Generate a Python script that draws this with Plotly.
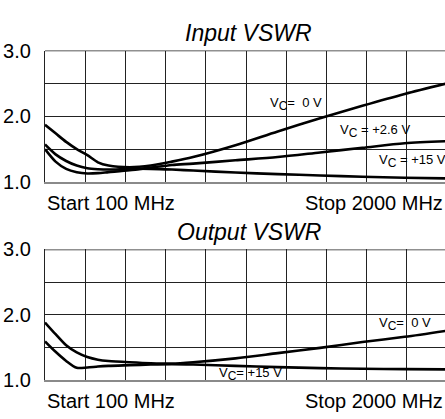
import plotly.graph_objects as go

# Frequency points (MHz); the sweep runs Start 100 MHz to Stop 2000 MHz
freq_mhz = [100, 150, 200, 250, 300, 350, 400, 500, 600, 700, 800, 1000, 1200, 1400, 1600, 1800, 2000]

# Input VSWR
input_vc_0v = [1.87, 1.74, 1.61, 1.50, 1.41, 1.30, 1.25, 1.225, 1.25, 1.31, 1.38, 1.56, 1.77, 1.97, 2.16, 2.34, 2.50]
input_vc_2p6v = [1.50, 1.31, 1.20, 1.15, 1.13, 1.135, 1.15, 1.18, 1.22, 1.26, 1.28, 1.33, 1.38, 1.45, 1.52, 1.59, 1.62]
input_vc_15v = [1.57, 1.42, 1.32, 1.25, 1.21, 1.195, 1.19, 1.20, 1.20, 1.19, 1.175, 1.145, 1.12, 1.10, 1.08, 1.065, 1.055]

# Output VSWR
output_vc_0v = [1.88, 1.70, 1.53, 1.42, 1.35, 1.31, 1.29, 1.27, 1.255, 1.25, 1.27, 1.33, 1.41, 1.49, 1.58, 1.66, 1.755]
output_vc_15v = [1.59, 1.43, 1.29, 1.185, 1.19, 1.205, 1.215, 1.225, 1.235, 1.24, 1.235, 1.215, 1.195, 1.18, 1.17, 1.165, 1.16]

y_tickvals = [1.0, 2.0, 3.0]
y_ticktext = ["1.0", "2.0", "3.0"]
x_start_label = "Start 100 MHz"
x_stop_label = "Stop 2000 MHz"

FONT = "Liberation Sans, Arial, sans-serif"
GRID = "#222222"
LINE = dict(color="black", width=2.6, shape="spline", smoothing=0.8)

fig = go.Figure()
for ys in (input_vc_0v, input_vc_2p6v, input_vc_15v):
    fig.add_trace(go.Scatter(x=freq_mhz, y=ys, mode="lines", line=LINE,
                             xaxis="x", yaxis="y", showlegend=False, hoverinfo="skip"))
for ys in (output_vc_0v, output_vc_15v):
    fig.add_trace(go.Scatter(x=freq_mhz, y=ys, mode="lines", line=LINE,
                             xaxis="x2", yaxis="y2", showlegend=False, hoverinfo="skip"))

x_left = 45 / 445
xcommon = dict(range=[100, 100 + 190 * 9.95], tick0=100, dtick=190, showgrid=True,
               gridcolor=GRID, gridwidth=1.2, showticklabels=False, showline=True,
               linecolor="#8a8a8a", linewidth=2.2, zeroline=False, domain=[x_left, 1.0],
               fixedrange=True)
ycommon = dict(range=[1, 3], tickmode="array", tickvals=y_tickvals, ticktext=y_ticktext,
               showgrid=True, gridcolor=GRID, gridwidth=1.2,
               minor=dict(tickmode="array", tickvals=[1.5, 2.5], showgrid=True,
                          gridcolor=GRID, gridwidth=1.2, ticks=""),
               showline=True, linecolor=GRID, linewidth=1.2, zeroline=False,
               ticks="", ticklabelstandoff=9,
               tickfont=dict(family=FONT, size=20, color="black"), fixedrange=True)

H = 419.0
fig.update_layout(
    width=445, height=419,
    margin=dict(l=0, r=0, t=0, b=0),
    paper_bgcolor="white", plot_bgcolor="white",
    font=dict(family=FONT, color="black"),
    xaxis=dict(**xcommon, anchor="y"),
    xaxis2=dict(**xcommon, anchor="y2"),
    yaxis=dict(**ycommon, domain=[1 - 180.5 / H, 1 - 41.7 / H], anchor="x"),
    yaxis2=dict(**ycommon, domain=[1 - 389.3 / H, 1 - 251.7 / H], anchor="x2"),
)

# top border of each panel
for yref in ("y", "y2"):
    fig.add_shape(type="line", xref="x domain" if yref == "y" else "x2 domain", yref=yref,
                  x0=0, x1=1, y0=3, y1=3, line=dict(color=GRID, width=1.4))

titles = [("Input VSWR", 23), ("Output VSWR", 233)]
for text, ypx in titles:
    fig.add_annotation(text=text, xref="paper", yref="paper", x=249 / 445, y=1 - ypx / H,
                       xanchor="center", yanchor="middle", showarrow=False,
                       font=dict(family=FONT, size=23, style="italic", color="black"))

for ypx in (203, 412):
    fig.add_annotation(text=x_start_label, xref="paper", yref="paper", x=45 / 445, y=1 - ypx / H,
                       xanchor="left", yanchor="middle", showarrow=False,
                       font=dict(family=FONT, size=20, color="black"))
    fig.add_annotation(text=x_stop_label, xref="paper", yref="paper", x=1.0, y=1 - ypx / H,
                       xanchor="right", yanchor="middle", showarrow=False,
                       font=dict(family=FONT, size=20, color="black"))

SUB = "V<sub><span style='font-size:12px'>C</span></sub>"
labels = [
    (SUB + "=  0 V", "x", "y", 100 + 190 * 5.55, 2.19),
    (SUB + " = +2.6 V", "x", "y", 100 + 190 * 7.29, 1.77),
    (SUB + " = +15 V", "x", "y", 100 + 190 * 8.27, 1.32),
    (SUB + "=  0 V", "x2", "y2", 100 + 190 * 8.26, 1.86),
    (SUB + "= +15 V", "x2", "y2", 100 + 190 * 4.28, 1.09),
]
for text, xr, yr, xv, yv in labels:
    fig.add_annotation(text=text, xref=xr, yref=yr, x=xv, y=yv, xanchor="left",
                       yanchor="middle", showarrow=False,
                       font=dict(family=FONT, size=13, color="black"))

fig.write_html("out.html", config={"displayModeBar": False},
               post_script="document.body.style.margin='0px';document.body.style.overflow='hidden';")
